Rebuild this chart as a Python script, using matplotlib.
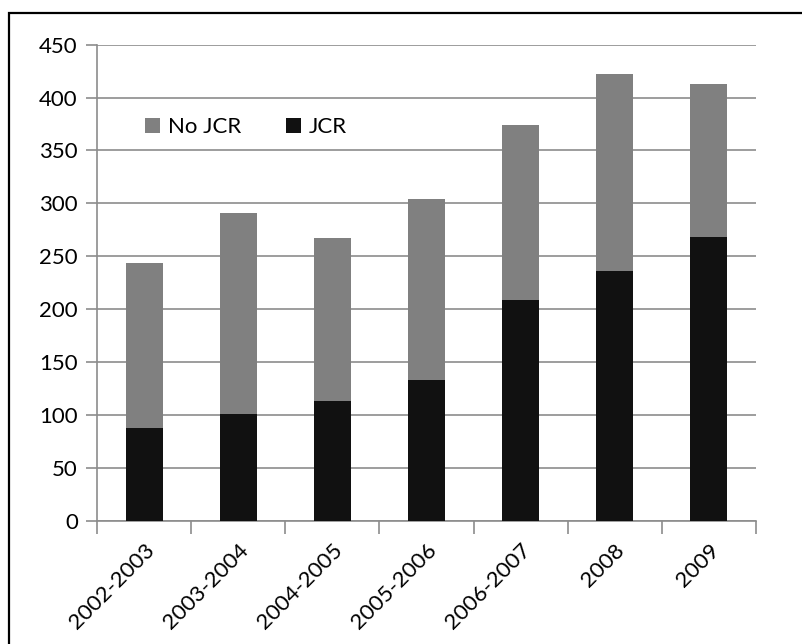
import matplotlib

matplotlib.use("Agg")

import matplotlib.pyplot as plt
import numpy as np
from matplotlib.patches import Rectangle
from matplotlib.ticker import FixedLocator

plt.rcParams["font.family"] = ["Lato", "DejaVu Sans"]

PERIODS = ["2002-2003", "2003-2004", "2004-2005", "2005-2006", "2006-2007", "2008", "2009"]
JCR = [88, 101, 113, 133, 209, 236, 268]
NO_JCR = [156, 190, 154, 171, 165, 186, 145]

GRID = "#8c8c8c"
FS = 16

fig = plt.figure(figsize=(8.02, 6.44), dpi=100)
W, H = 802, 644
ax = fig.add_axes([97.3 / W, (H - 520.7) / H, (755.7 - 97.3) / W, (520.7 - 44.7) / H])

x = np.arange(len(PERIODS))
ax.bar(x, JCR, width=0.4, color="#111111", label="JCR", zorder=3)
ax.bar(x, NO_JCR, width=0.4, bottom=JCR, color="#808080", label="No JCR", zorder=3)

ax.set_xlim(-0.5, len(PERIODS) - 0.5)
ax.set_ylim(0, 450)
ax.set_yticks(range(0, 451, 50))
ax.yaxis.grid(True, color=GRID, linewidth=1.2, zorder=0)
ax.set_axisbelow(True)

for side in ("top", "right"):
    ax.spines[side].set_visible(False)
for side in ("left", "bottom"):
    ax.spines[side].set_color(GRID)
    ax.spines[side].set_linewidth(1.2)

ax.tick_params(axis="y", length=8, width=1.2, color=GRID, labelsize=FS, pad=6)
ax.set_xticks(x)
ax.set_xticklabels(PERIODS, rotation=45, ha="right", va="top", rotation_mode="anchor", fontsize=FS)
ax.tick_params(axis="x", which="major", length=0, pad=14)
ax.xaxis.set_minor_locator(FixedLocator(np.arange(-0.5, len(PERIODS), 1.0)))
ax.tick_params(axis="x", which="minor", length=9, width=1.2, color=GRID)

handles, labels = ax.get_legend_handles_labels()
ax.legend(
    handles[::-1],
    labels[::-1],
    ncol=2,
    loc="center left",
    bbox_to_anchor=(0.072, 0.827),
    frameon=False,
    fontsize=FS,
    handlelength=0.68,
    handleheight=0.68,
    handletextpad=0.36,
    columnspacing=2.0,
    borderpad=0,
    borderaxespad=0,
)

# outer chart frame, running off the right and bottom edges
fig.patches.append(
    Rectangle(
        (9 / W, -0.1),
        1.2,
        (H - 13) / H + 0.1,
        transform=fig.transFigure,
        fill=False,
        edgecolor="black",
        linewidth=1.6,
        clip_on=False,
    )
)

fig.savefig("out.png", dpi=100)
